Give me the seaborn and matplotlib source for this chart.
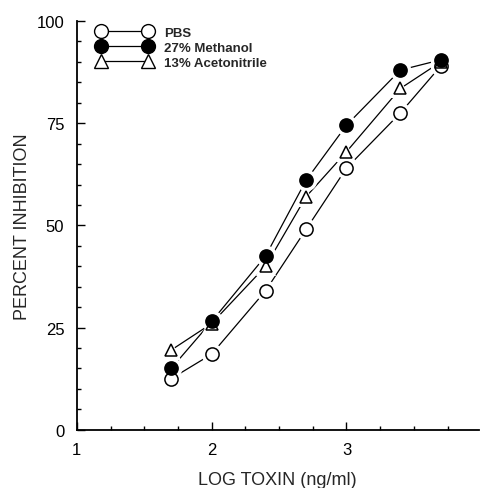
"""Percent inhibition vs log toxin concentration in three diluents."""

import matplotlib

matplotlib.use("Agg")

import matplotlib.pyplot as plt
import pandas as pd
import seaborn as sns
from matplotlib.lines import Line2D
from matplotlib.ticker import MultipleLocator

log_toxin = [1.7, 2.0, 2.4, 2.7, 3.0, 3.4, 3.7]
pbs = [12.5, 18.5, 34.0, 49.0, 64.0, 77.5, 89.0]
methanol = [15.0, 26.5, 42.5, 61.0, 74.5, 88.0, 90.5]
acetonitrile = [19.5, 26.0, 40.0, 57.0, 68.0, 83.5, 90.0]

series_names = ["PBS", "27% Methanol", "13% Acetonitrile"]
series_values = [pbs, methanol, acetonitrile]

# marker, face colour, size -- drawn in this order so methanol sits on top
STYLES = {
    "PBS": ("o", "white", 9.5),
    "13% Acetonitrile": ("^", "white", 9.0),
    "27% Methanol": ("o", "black", 9.5),
}


def build_frame() -> pd.DataFrame:
    rows = []
    for name, values in zip(series_names, series_values):
        for x, y in zip(log_toxin, values):
            rows.append({"log_toxin": x, "inhibition": y, "series": name})
    return pd.DataFrame(rows)


def main() -> None:
    sns.set_theme(style="ticks")
    plt.rcParams["font.family"] = ["Liberation Sans", "DejaVu Sans"]

    df = build_frame()

    fig = plt.figure(figsize=(4.8, 4.89), dpi=100)
    ax = fig.add_axes([0.16, 0.119, 0.837, 0.836])

    # connecting lines
    sns.lineplot(
        data=df,
        x="log_toxin",
        y="inhibition",
        hue="series",
        palette={name: "black" for name in series_names},
        linewidth=0.9,
        legend=False,
        ax=ax,
        zorder=1,
    )

    # white halos to break the lines around each marker
    for name in series_names:
        marker, _, size = STYLES[name]
        sub = df[df["series"] == name]
        ax.plot(
            sub["log_toxin"], sub["inhibition"], linestyle="none",
            marker=marker, markersize=size + 6, color="white",
            markeredgewidth=0, zorder=2,
        )

    for name in STYLES:
        marker, face, size = STYLES[name]
        sub = df[df["series"] == name]
        ax.plot(
            sub["log_toxin"], sub["inhibition"], linestyle="none",
            marker=marker, markersize=size, markerfacecolor=face,
            markeredgecolor="black", markeredgewidth=1.1, zorder=3,
        )

    ax.set_xlim(1, 3.98)
    ax.set_ylim(0, 100)
    ax.xaxis.set_major_locator(MultipleLocator(1))
    ax.xaxis.set_minor_locator(MultipleLocator(0.25))
    ax.yaxis.set_major_locator(MultipleLocator(25))
    ax.yaxis.set_minor_locator(MultipleLocator(5))
    ax.tick_params(which="both", direction="in", colors="black",
                   labelsize=12, width=1.0)
    ax.tick_params(which="major", length=6, pad=9)
    ax.tick_params(which="minor", length=3)

    sns.despine(ax=ax)
    for side in ("left", "bottom"):
        ax.spines[side].set_linewidth(1.3)
        ax.spines[side].set_color("black")

    ax.set_xlabel("LOG TOXIN (ng/ml)", fontsize=13, labelpad=10)
    ax.set_ylabel("PERCENT INHIBITION", fontsize=13, labelpad=4)

    handles = []
    for name in series_names:
        marker, face, size = STYLES[name]
        handles.append(Line2D(
            [0], [0], color="black", linewidth=0.9, marker=marker,
            markersize=size * 1.05, markerfacecolor=face,
            markeredgecolor="black", markeredgewidth=1.0,
        ))
    ax.legend(
        handles, series_names, loc="upper left",
        bbox_to_anchor=(0.02, 1.015), frameon=False, numpoints=2,
        handlelength=4.2, handletextpad=0.9, labelspacing=0.2,
        prop={"weight": "bold", "size": 9.5},
    )

    fig.savefig("out.png", dpi=100)
    plt.close(fig)


if __name__ == "__main__":
    main()
